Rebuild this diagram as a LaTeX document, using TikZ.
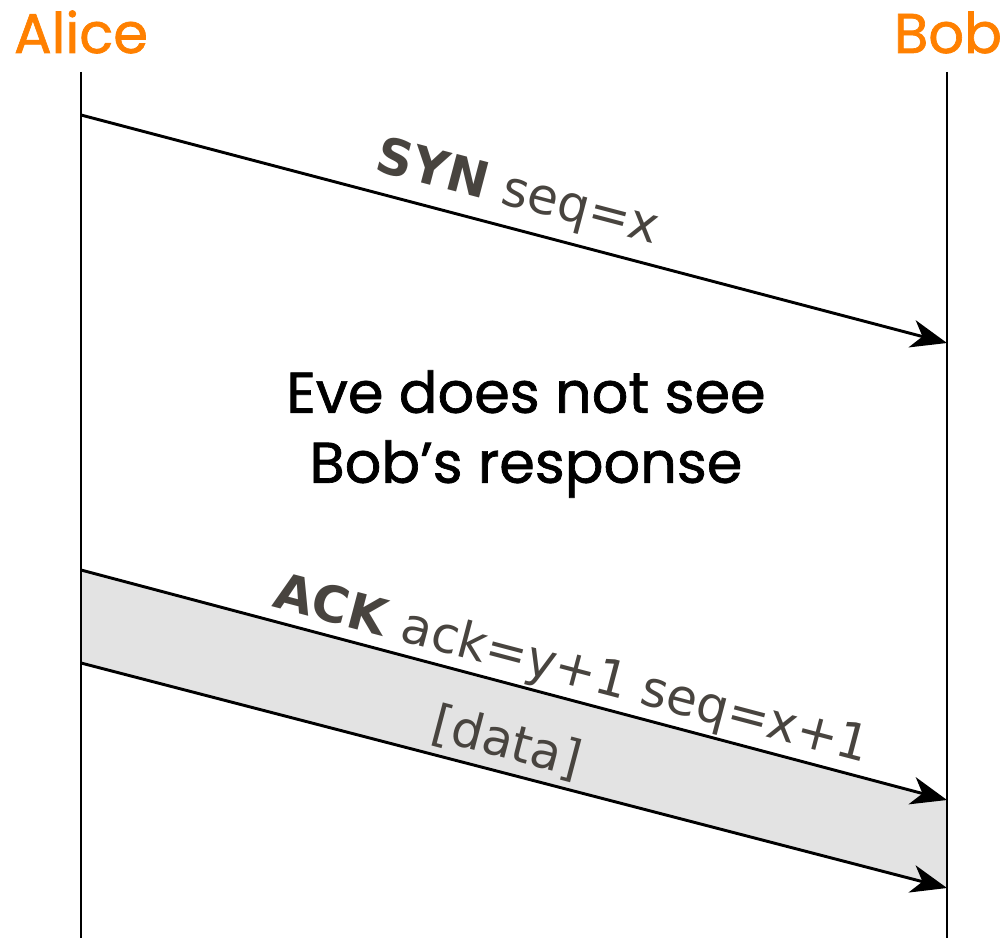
\documentclass[tikz,border=0pt]{standalone}
\usepackage{fontspec}
\setmainfont{DejaVu Sans}
\newfontfamily\comicfont{Poppins}[FakeBold=1.2]
\usetikzlibrary{arrows.meta}

\definecolor{peer}{HTML}{FF8000}
\definecolor{msgtext}{HTML}{48443F}
\definecolor{pktfill}{HTML}{E3E3E3}

\tikzset{
  lifeline/.style={line width=2pt},
  msg/.style={line width=2.2pt,-{Stealth[length=27pt,width=21pt,inset=8pt]}},
  peername/.style={text=peer,font=\comicfont\fontsize{42}{50}\selectfont,inner sep=0pt,anchor=base},
  msglabel/.style={text=msgtext,font=\fontsize{37.5}{45}\selectfont,inner sep=0pt,anchor=base,rotate=-14.75},
}

\begin{document}
\begin{tikzpicture}[x=0.75pt,y=0.75pt,yscale=-1,xscale=1]
\useasboundingbox (0,0) rectangle (1003,938);

% the two peers
\node[peername] (alice) at (81,53) {Alice};
\node[peername] (bob) at (948,53) {Bob};

\coordinate (a-top) at (81,72);
\coordinate (a-bot) at (81,938);
\coordinate (b-top) at (947,72);
\coordinate (b-bot) at (947,938);

% message ends on the lifelines
\coordinate (a-syn) at (81,115);
\coordinate (b-syn) at (947,343);
\coordinate (a-ack) at (81,570);
\coordinate (b-ack) at (947,800);
\coordinate (a-data) at (81,663);
\coordinate (b-data) at (947,888);

% packet band between ack and data
\fill[pktfill] (a-ack) -- (b-ack) -- (b-data) -- (a-data) -- cycle;

\draw[lifeline] (a-top) -- (a-bot);
\draw[lifeline] (b-top) -- (b-bot);

\draw[msg] (a-syn) -- (b-syn);
\draw[msg] (a-ack) -- (b-ack);
\draw[msg] (a-data) -- (b-data);

\node[msglabel] (syn) at (514,207) {\textbf{SYN} seq=x};
\node[msglabel] (ack) at (568,685) {\textbf{ACK} ack=y+1 seq=x+1};
\node[msglabel] (data) at (503,758) {[data]};

\node[font=\comicfont\fontsize{43}{52.5}\selectfont,align=center] (eve) at (526,434)
  {Eve does not see\\Bob’s response};
\end{tikzpicture}
\end{document}
